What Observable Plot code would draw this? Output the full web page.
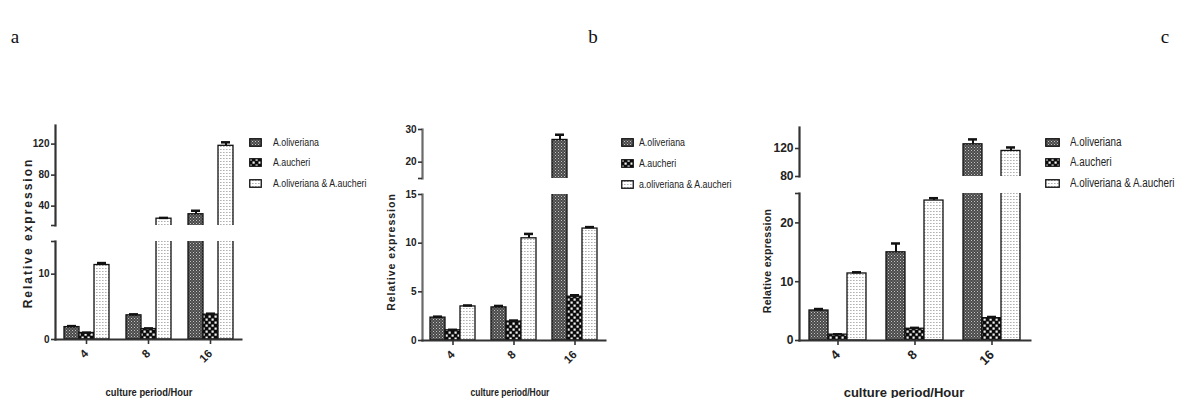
<!DOCTYPE html>
<html><head><meta charset="utf-8">
<script src="https://cdn.jsdelivr.net/npm/d3@7"></script>
<script src="https://cdn.jsdelivr.net/npm/@observablehq/plot@0.6"></script>
<style>
body{margin:0;background:#fff;}
#root{position:relative;width:1189px;height:398px;overflow:hidden;background:#fff;font-family:"Liberation Sans Narrow","Arial Narrow","Liberation Sans",Arial,sans-serif;color:#222}
.abs{position:absolute}
.plabel{font-family:"Liberation Serif","Times New Roman",serif;font-size:19px;color:#111;transform:translate(-50%,-50%)}
.ytitle{font-family:"Liberation Sans",Arial,sans-serif;font-weight:bold;white-space:nowrap;color:#222}
.xtitle{white-space:nowrap;font-weight:bold;color:#222}
.lrow{display:flex;align-items:center;white-space:nowrap;transform:translateY(-50%);color:#222}
.lrow svg{flex:none}
.lrow span{display:inline-block;transform-origin:0 50%}
</style></head><body><div id="root"></div>
<script>
// ---------- data ----------
const groups = ["4", "8", "16"];
const seriesA = ["A.oliveriana", "A.aucheri", "A.oliveriana & A.aucheri"];
const seriesB = ["A.oliveriana", "A.aucheri", "a.oliveriana & A.aucheri"];
const seriesC = ["A.oliveriana", "A.aucheri", "A.oliveriana & A.aucheri"];

// panel a
const aOliveriana = [1.9, 3.7, 29.5];
const aOliverianaErr = [0.15, 0.15, 4.5];
const aAucheri = [1.0, 1.6, 3.8];
const aAucheriErr = [0.05, 0.1, 0.15];
const aBoth = [11.4, 23.8, 117.8];
const aBothErr = [0.3, 1.0, 4.5];
const aLowerDomain = [0, 15], aLowerTicks = [0, 10, 15], aLowerBlank = [15];
const aUpperDomain = [15, 144], aUpperTicks = [15, 40, 80, 120], aUpperBlank = [15];

// panel b
const bOliveriana = [2.35, 3.4, 26.8];
const bOliverianaErr = [0.1, 0.15, 1.6];
const bAucheri = [1.05, 1.95, 4.5];
const bAucheriErr = [0.05, 0.1, 0.15];
const bBoth = [3.5, 10.5, 11.5];
const bBothErr = [0.1, 0.45, 0.15];
const bLowerDomain = [0, 15], bLowerTicks = [0, 5, 10, 15], bLowerBlank = [];
const bUpperDomain = [15, 30], bUpperTicks = [15, 20, 30], bUpperBlank = [15];

// panel c
const cOliveriana = [5.1, 15.0, 126];
const cOliverianaErr = [0.25, 1.5, 7];
const cAucheri = [1.0, 2.0, 3.8];
const cAucheriErr = [0.05, 0.15, 0.2];
const cBoth = [11.4, 23.8, 116.5];
const cBothErr = [0.2, 0.4, 5];
const cLowerDomain = [0, 25], cLowerTicks = [0, 10, 20, 25], cLowerBlank = [25];
const cUpperDomain = [80, 150], cUpperTicks = [80, 120], cUpperBlank = [];

const xTitle = "culture period/Hour";
const yTitle = "Relative expression";
const panelLetters = ["a", "b", "c"];

// ---------- patterns ----------
const patternIds = ["patOliv", "patAuch", "patBoth"];
const patternUrls = patternIds.map(id => `url(#${id})`);
const defsSvg = d3.select("#root").append("svg").attr("width", 0).attr("height", 0).style("position", "absolute");
const defs = defsSvg.append("defs");
{
  const p = defs.append("pattern").attr("id", "patOliv").attr("patternUnits", "userSpaceOnUse").attr("width", 3).attr("height", 3);
  p.append("rect").attr("width", 3).attr("height", 3).attr("fill", "#4a4a4a");
  p.append("rect").attr("width", 1).attr("height", 1).attr("fill", "#c4c4c4");
  p.append("rect").attr("x", 1.5).attr("y", 1.5).attr("width", 1).attr("height", 1).attr("fill", "#9c9c9c");
}
{
  const p = defs.append("pattern").attr("id", "patAuch").attr("patternUnits", "userSpaceOnUse").attr("width", 6).attr("height", 6);
  p.append("rect").attr("width", 6).attr("height", 6).attr("fill", "#0c0c0c");
  p.append("rect").attr("x", 0.5).attr("y", 0.5).attr("width", 2.2).attr("height", 2.2).attr("fill", "#f4f4f4");
  p.append("rect").attr("x", 3.5).attr("y", 3.5).attr("width", 2.2).attr("height", 2.2).attr("fill", "#f4f4f4");
}
{
  const p = defs.append("pattern").attr("id", "patBoth").attr("patternUnits", "userSpaceOnUse").attr("width", 3).attr("height", 3);
  p.append("rect").attr("width", 3).attr("height", 3).attr("fill", "#ffffff");
  p.append("rect").attr("x", 0).attr("y", 1).attr("width", 1.6).attr("height", 0.9).attr("fill", "#a8a8a8");
}

function makeRows(series, vals, errs) {
  return groups.flatMap((g, i) => series.map((s, j) => ({group: g, series: s, value: vals[j][i], err: errs[j][i]})));
}

const panels = [
  {
    series: seriesA,
    rows: makeRows(seriesA, [aOliveriana, aAucheri, aBoth], [aOliverianaErr, aAucheriErr, aBothErr]),
    lower: {domain: aLowerDomain, ticks: aLowerTicks, blank: aLowerBlank, px: [241, 339]},
    upper: {domain: aUpperDomain, ticks: aUpperTicks, blank: aUpperBlank, px: [125, 225]},
    left: 0, width: 245, marginLeft: 55, marginRight: 4, tickFont: 10, fxFont: 11.5, capInset: 3, axisColor: "#333",
    yTitle: {x: 28, y: 233, size: 12, spacing: 2},
    xTitle: {x: 149, y: 392, size: 11, sx: 0.85},
    legend: {x: 249, ys: [142, 162, 183], size: 11, sw: 13, gap: 11, sx: 0.8},
    letter: {x: 15, y: 37}
  },
  {
    series: seriesB,
    rows: makeRows(seriesB, [bOliveriana, bAucheri, bBoth], [bOliverianaErr, bAucheriErr, bBothErr]),
    lower: {domain: bLowerDomain, ticks: bLowerTicks, blank: bLowerBlank, px: [194, 340]},
    upper: {domain: bUpperDomain, ticks: bUpperTicks, blank: bUpperBlank, px: [129, 178]},
    left: 390, width: 222, marginLeft: 31, marginRight: 6, tickFont: 10, fxFont: 11.5, capInset: 3, axisColor: "#6a6a6a",
    yTitle: {x: 391, y: 252, size: 10.5, spacing: 1},
    xTitle: {x: 510, y: 392, size: 10, sx: 0.85},
    legend: {x: 621, ys: [142, 163, 184], size: 11, sw: 13, gap: 5, sx: 0.8},
    letter: {x: 593, y: 37}
  },
  {
    series: seriesC,
    rows: makeRows(seriesC, [cOliveriana, cAucheri, cBoth], [cOliverianaErr, cAucheriErr, cBothErr]),
    lower: {domain: cLowerDomain, ticks: cLowerTicks, blank: cLowerBlank, px: [193, 340]},
    upper: {domain: cUpperDomain, ticks: cUpperTicks, blank: cUpperBlank, px: [127, 176]},
    left: 765, width: 270, marginLeft: 33, marginRight: 4, tickFont: 12, fxFont: 13, capInset: 5, axisColor: "#333",
    yTitle: {x: 767, y: 261, size: 10.5, spacing: 0.3},
    xTitle: {x: 904, y: 392, size: 13, sx: 1.0},
    legend: {x: 1045, ys: [142, 162, 183], size: 12, sw: 15, gap: 10, sx: 0.82},
    letter: {x: 1165, y: 37}
  }
];

const root = d3.select("#root");

function segment(p, part) {
  const s = p[part];
  const isLower = part === "lower";
  const mt = 4, mb = isLower ? 34 : 3;
  const [fTop, fBot] = s.px;
  const blank = new Set(s.blank);
  const ac = p.axisColor;
  const marks = [
    Plot.barY(p.rows, {fx: "group", x: "series", y: "value", fill: "series", stroke: "#111", strokeWidth: 1.3, clip: true}),
    Plot.ruleX(p.rows, {fx: "group", x: "series", y1: "value", y2: d => d.value + d.err, stroke: "#111", strokeWidth: 2, clip: true}),
    Plot.tickY(p.rows, {fx: "group", x: "series", y: d => d.value + d.err, stroke: "#111", strokeWidth: 2.5, insetLeft: p.capInset, insetRight: p.capInset, clip: true}),
    Plot.frame({anchor: "left", facet: "super", stroke: ac, strokeWidth: 2.2}),
    Plot.axisY({anchor: "left", ticks: s.ticks, tickFormat: d => blank.has(d) ? "" : d, tickSize: 4, tickPadding: 2, stroke: "#333", strokeWidth: 1.6, label: null})
  ];
  if (isLower) {
    marks.push(Plot.frame({anchor: "bottom", facet: "super", stroke: "#333", strokeWidth: 2}));
    marks.push(Plot.axisFx({anchor: "bottom", tickSize: 5, tickRotate: -45, tickPadding: 7, fontSize: p.fxFont, stroke: "#333", strokeWidth: 1.6, label: null}));
  }
  const svg = Plot.plot({
    width: p.width,
    height: fBot - fTop + mt + mb,
    marginLeft: p.marginLeft, marginRight: p.marginRight, marginTop: mt, marginBottom: mb,
    style: {fontFamily: '"Liberation Sans Narrow","Arial Narrow","Liberation Sans",Arial,sans-serif', fontSize: p.tickFont + "px", fontWeight: "bold", color: "#222", background: "transparent", overflow: "visible"},
    fx: {domain: groups, padding: 0, axis: null},
    x: {domain: p.series, paddingInner: 0, paddingOuter: 0.5, axis: null},
    y: {domain: s.domain, axis: null},
    color: {domain: p.series, range: patternUrls},
    marks
  });
  const wrap = root.append("div").attr("class", "abs").style("left", p.left + "px").style("top", (fTop - mt) + "px");
  wrap.node().appendChild(svg);
}

panels.forEach((p, i) => {
  segment(p, "upper");
  segment(p, "lower");
  root.append("div").attr("class", "abs ytitle")
    .style("left", p.yTitle.x + "px").style("top", p.yTitle.y + "px")
    .style("font-size", p.yTitle.size + "px").style("letter-spacing", p.yTitle.spacing + "px")
    .style("transform", "translate(-50%,-50%) rotate(-90deg)")
    .text(yTitle);
  root.append("div").attr("class", "abs xtitle")
    .style("left", p.xTitle.x + "px").style("top", p.xTitle.y + "px")
    .style("font-size", p.xTitle.size + "px")
    .style("transform", `translate(-50%,-50%) scaleX(${p.xTitle.sx})`)
    .text(xTitle);
  p.series.forEach((name, j) => {
    const row = root.append("div").attr("class", "abs lrow")
      .style("left", p.legend.x + "px").style("top", p.legend.ys[j] + "px")
      .style("font-size", p.legend.size + "px");
    const sw = row.append("svg").attr("width", p.legend.sw).attr("height", 9).style("margin-right", p.legend.gap + "px");
    sw.append("rect").attr("x", 0.75).attr("y", 0.75).attr("width", p.legend.sw - 1.5).attr("height", 7.5)
      .attr("fill", patternUrls[j]).attr("stroke", "#111").attr("stroke-width", 1.3);
    row.append("span").style("transform", `scaleX(${p.legend.sx})`).text(name);
  });
  root.append("div").attr("class", "abs plabel")
    .style("left", p.letter.x + "px").style("top", p.letter.y + "px")
    .text(panelLetters[i]);
});
</script></body></html>
